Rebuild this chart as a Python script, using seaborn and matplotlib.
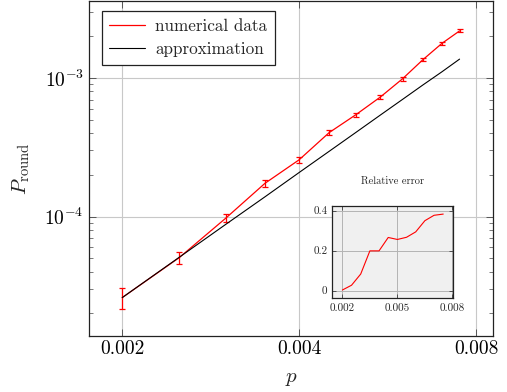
import matplotlib
matplotlib.use("Agg")
import matplotlib.pyplot as plt
import seaborn as sns
import numpy as np
import pandas as pd
from matplotlib.ticker import FixedLocator, NullLocator, LogLocator, NullFormatter

# ---- data ----
p_values = [0.002, 0.0025, 0.003, 0.0035, 0.004, 0.0045, 0.005, 0.0055, 0.006, 0.0065, 0.007, 0.0075]
numerical = [2.60e-5, 5.05e-5, 9.73e-5, 1.74e-4, 2.57e-4, 4.04e-4, 5.45e-4, 7.30e-4, 9.89e-4, 1.36e-3, 1.78e-3, 2.19e-3]
num_err = [4.5e-6, 4.7e-6, 6.5e-6, 1.1e-5, 1.4e-5, 1.8e-5, 1.9e-5, 2.6e-5, 3.2e-5, 4.2e-5, 5.0e-5, 5.5e-5]
approximation = [2.60e-5, 5.08e-5, 8.78e-5, 1.39e-4, 2.08e-4, 2.96e-4, 4.06e-4, 5.41e-4, 7.02e-4, 8.93e-4, 1.11e-3, 1.37e-3]
rel_error = [0.003, 0.027, 0.083, 0.199, 0.199, 0.266, 0.256, 0.267, 0.294, 0.350, 0.377, 0.383]

main_xticks = [0.002, 0.004, 0.008]
main_xticklabels = ["0.002", "0.004", "0.008"]
inset_xticks = [0.002, 0.005, 0.008]
inset_xticklabels = ["0.002", "0.005", "0.008"]
inset_yticks = [0, 0.2, 0.4]
inset_yticklabels = ["0", "0.2", "0.4"]

df = pd.DataFrame({"p": p_values, "numerical": numerical, "approx": approximation})
df_err = pd.DataFrame({"p": p_values, "rel": rel_error})

sns.set_style("ticks")
plt.rcParams["font.family"] = ["cmr10", "DejaVu Serif"]
plt.rcParams["mathtext.fontset"] = "cm"
plt.rcParams["axes.formatter.use_mathtext"] = True
plt.rcParams["axes.unicode_minus"] = False

fig = plt.figure(figsize=(5.07, 3.92), dpi=100)
ax = fig.add_axes([0.175, 0.1436, 0.798, 0.853])

grid_c = "#c8c8c8"
sns.lineplot(data=df, x="p", y="numerical", ax=ax, color="#ff0000", lw=0.9, label="numerical data")
ax.errorbar(df["p"], df["numerical"], yerr=num_err, fmt="none", ecolor="#ff0000",
            elinewidth=0.9, capsize=2.2, capthick=0.9)
sns.lineplot(data=df, x="p", y="approx", ax=ax, color="black", lw=0.8, label="approximation")

ax.set_xscale("log")
ax.set_yscale("log")
ax.set_xlim(0.001754, 0.00856)
ax.set_ylim(1.38e-5, 3.58e-3)
ax.xaxis.set_major_locator(FixedLocator(main_xticks))
ax.xaxis.set_minor_locator(NullLocator())
ax.set_xticklabels(main_xticklabels)
ax.yaxis.set_major_locator(LogLocator(base=10, numticks=10))
ax.yaxis.set_minor_locator(LogLocator(base=10, subs=np.arange(2, 10), numticks=20))
ax.yaxis.set_minor_formatter(NullFormatter())
ax.grid(True, which="major", color=grid_c, lw=0.8)
ax.set_axisbelow(True)
ax.tick_params(which="both", direction="in", top=True, right=True, labelsize=14, colors="#444444",
               labelcolor="black")
ax.tick_params(which="major", length=5, width=0.6)
ax.tick_params(which="minor", length=3, width=0.5)
for s in ax.spines.values():
    s.set_linewidth(0.9)
    s.set_color("#222222")
ax.set_xlabel("$p$", fontsize=15, labelpad=8)
ax.set_ylabel(r"$P_{\mathrm{round}}$", fontsize=15, labelpad=9)

leg = ax.legend(loc="upper left", bbox_to_anchor=(0.032, 0.970), borderaxespad=0,
                fontsize=12.3, frameon=True, fancybox=False,
                edgecolor="#222222", handlelength=2.1,
                handletextpad=0.6, borderpad=0.45, labelspacing=0.42)
leg.get_frame().set_linewidth(0.9)
leg.get_frame().set_alpha(1)

# ---- inset ----
axi = fig.add_axes([0.6554, 0.239, 0.2387, 0.2355])
axi.set_facecolor("#f0f0f0")
sns.lineplot(data=df_err, x="p", y="rel", ax=axi, color="#ff0000", lw=0.8)
axi.set_xlim(0.00145, 0.00805)
axi.set_ylim(-0.0385, 0.4235)
axi.set_xticks(inset_xticks)
axi.set_xticklabels(inset_xticklabels)
axi.set_yticks(inset_yticks)
axi.set_yticklabels(inset_yticklabels)
axi.grid(True, color="#b4b4b4", lw=0.7)
axi.set_axisbelow(True)
axi.tick_params(direction="in", top=True, right=True, labelsize=8, length=3, width=0.5)
axi.set_xlabel("")
axi.set_ylabel("")
for s in axi.spines.values():
    s.set_linewidth(0.9)
    s.set_color("#222222")
axi.set_title("Relative error", fontsize=7.5, pad=16)

fig.savefig("out.png", dpi=100)
